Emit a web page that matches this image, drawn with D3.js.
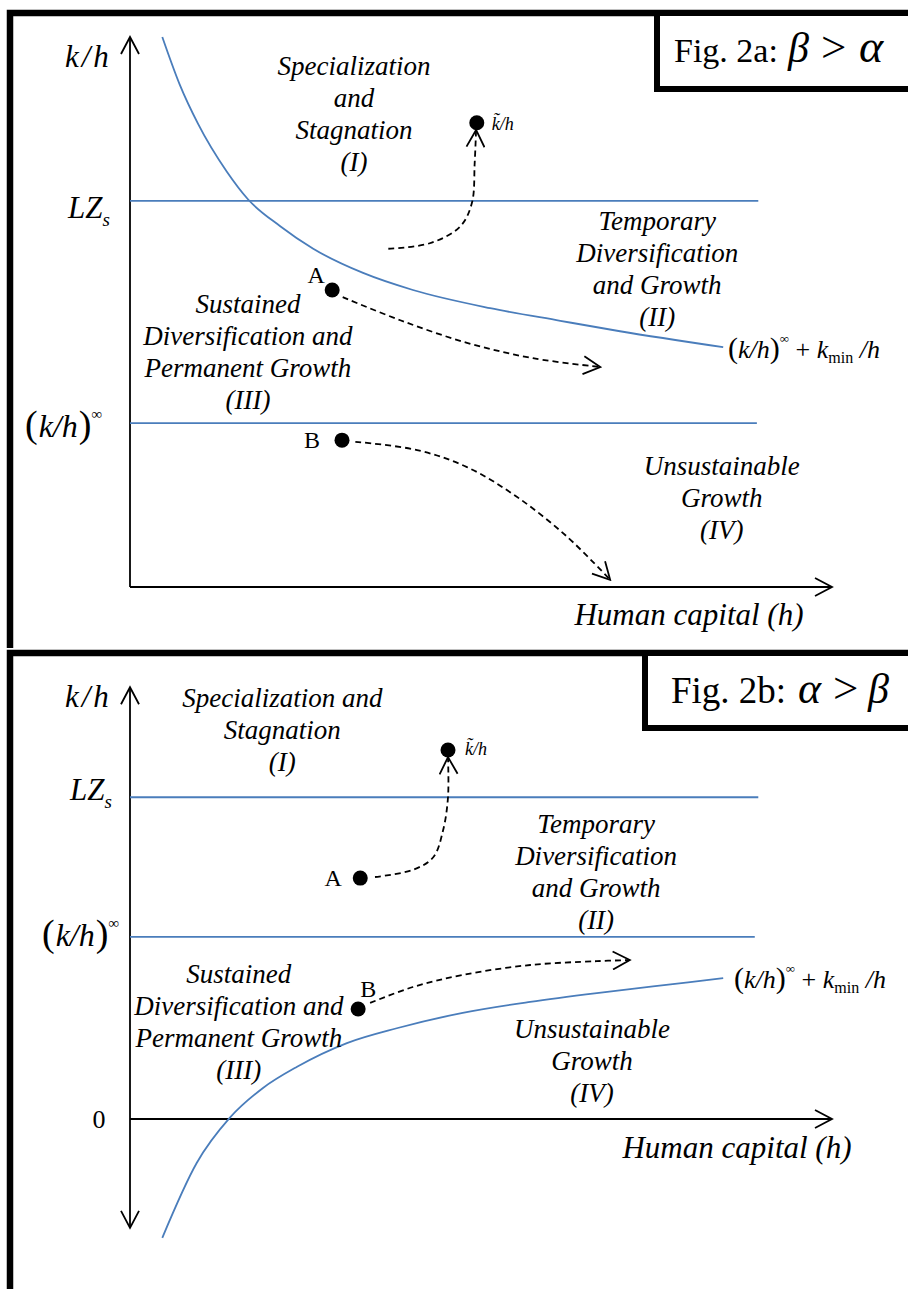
<!DOCTYPE html>
<meta charset="utf-8">
<script src="https://d3js.org/d3.v7.min.js"></script>
<style>
  body { margin: 0; background: #fff; }
  text { font-family: 'Liberation Serif', 'Times New Roman', serif; fill: #000; }
  .region { font-style: italic; font-size: 27px; }
</style>
<body>
<div id="my_dataviz"></div>
<script>

// ---- data (h on x, k/h on y, arbitrary units) ----
// Fig. 2a: beta > alpha
var levelsA = [{name: "LZs", v: 7.02, end: 8.95}, {name: "kInf", v: 2.98, end: 8.93}];
var curveA = [[0.46,10.0],[0.71,9.13],[0.97,8.42],[1.38,7.55],[1.68,7.05],[2.14,6.56],[2.61,6.15],
              [3.32,5.71],[4.03,5.40],[5.13,5.07],[6.13,4.84],[6.98,4.65],[8.45,4.36]];
var dotsA = [{name: "A", h: 2.88, kh: 5.40}, {name: "B", h: 3.02, kh: 2.67}, {name: "kt", h: 4.94, kh: 8.44}];
var pathsA = [
  [[3.68,6.15],[4.27,6.25],[4.70,6.55],[4.87,6.98],[4.91,7.71],[4.93,8.31]],
  [[3.03,5.27],[3.85,4.85],[4.80,4.44],[5.74,4.16],[6.70,4.00]],
  [[3.21,2.64],[4.09,2.49],[4.80,2.18],[5.51,1.64],[6.23,0.91],[6.84,0.13]]
];
var regionsA = [
  {lines: ["Specialization", "and", "Stagnation", "(I)"], h: 3.19, kh: 9.31},
  {lines: ["Temporary", "Diversification", "and Growth", "(II)"], h: 7.51, kh: 6.49},
  {lines: ["Sustained", "Diversification and", "Permanent Growth", "(III)"], h: 1.68, kh: 4.98},
  {lines: ["Unsustainable", "Growth", "(IV)"], h: 8.43, kh: 2.04}
];

// Fig. 2b: alpha > beta
var levelsB = [{name: "LZs", v: 5.85, end: 8.95}, {name: "kInf", v: 3.31, end: 8.90}];
var curveB = [[0.46,-2.16],[0.95,-0.80],[1.42,0.02],[1.89,0.56],[2.38,0.95],[3.09,1.38],
              [3.80,1.65],[4.74,1.93],[5.70,2.13],[6.65,2.29],[7.45,2.41],[8.45,2.56]];
var dotsB = [{name: "A", h: 3.28, kh: 4.38}, {name: "B", h: 3.25, kh: 2.00}, {name: "kt", h: 4.53, kh: 6.71}];
var pathsB = [
  [[3.49,4.40],[4.03,4.53],[4.32,4.76],[4.46,5.25],[4.53,5.85],[4.53,6.58]],
  [[3.42,2.11],[4.03,2.40],[4.74,2.62],[5.70,2.80],[6.65,2.87],[7.12,2.89]]
];
var regionsB = [
  {lines: ["Specialization and", "Stagnation", "(I)"], h: 2.17, kh: 7.49},
  {lines: ["Temporary", "Diversification", "and Growth", "(II)"], h: 6.64, kh: 5.20},
  {lines: ["Sustained", "Diversification and", "Permanent Growth", "(III)"], h: 1.55, kh: 2.47},
  {lines: ["Unsustainable", "Growth", "(IV)"], h: 6.58, kh: 1.47}
];

var blue = "#4a7dbb";

var svg = d3.select("#my_dataviz")
  .append("svg")
    .attr("width", 908)
    .attr("height", 1289);

// open arrow head
svg.append("defs").append("marker")
    .attr("id", "arrow")
    .attr("viewBox", "0 0 20 20")
    .attr("refX", 18).attr("refY", 10)
    .attr("markerWidth", 20).attr("markerHeight", 20)
    .attr("markerUnits", "userSpaceOnUse")
    .attr("orient", "auto-start-reverse")
  .append("path")
    .attr("d", "M1,1 L18,10 L1,19")
    .attr("fill", "none")
    .attr("stroke", "#000")
    .attr("stroke-width", 1.8);

// write a text made of parts (for the little formulas)
function mathText(g, x, y, parts, anchor) {
  var t = g.append("text").attr("x", x).attr("y", y).attr("text-anchor", anchor || "start");
  parts.forEach(function(p) {
    var s = t.append("tspan")
      .attr("font-size", p.size)
      .attr("font-style", p.it ? "italic" : "normal")
      .attr("dy", p.dy || 0)
      .attr("dx", p.dx || 0)
      .text(p.t);
    if (p.x != null) s.attr("x", p.x);
  });
  return t;
}

function drawPanel(cfg) {
  var g = svg.append("g");
  var x = d3.scaleLinear().domain([0, 10]).range([130, 832]);
  var y = d3.scaleLinear().domain([0, 10]).range(cfg.yRange);

  // frame and title box
  g.append("path")
    .attr("d", "M10," + cfg.frame[1] + " V" + cfg.frame[0] + " H915")
    .attr("fill", "none").attr("stroke", "#000").attr("stroke-width", 6.5);
  g.append("rect")
    .attr("x", cfg.box[0]).attr("y", cfg.frame[0])
    .attr("width", 915 - cfg.box[0]).attr("height", cfg.box[1] - cfg.frame[0])
    .attr("fill", "#fff").attr("stroke", "#000").attr("stroke-width", 6);
  mathText(g, cfg.title[0], cfg.title[1], [
    {t: cfg.titleText, size: cfg.titleSize},
    {t: cfg.sym[0], size: cfg.symSize[0], it: true, x: cfg.symX[0]},
    {t: ">", size: "45px", x: cfg.symX[1]},
    {t: cfg.sym[1], size: cfg.symSize[1], it: true, x: cfg.symX[2]}
  ]);

  // axes
  g.append("line")
    .attr("x1", x(0)).attr("x2", x(0))
    .attr("y1", y(cfg.yBottom)).attr("y2", y(cfg.yTop))
    .attr("stroke", "#000").attr("stroke-width", 1.8)
    .attr("marker-end", "url(#arrow)")
    .attr("marker-start", cfg.yBottom < 0 ? "url(#arrow)" : null);
  g.append("line")
    .attr("x1", x(0)).attr("x2", x(10))
    .attr("y1", y(0)).attr("y2", y(0))
    .attr("stroke", "#000").attr("stroke-width", 2.2)
    .attr("marker-end", "url(#arrow)");

  // horizontal thresholds
  g.selectAll(".level").data(cfg.levels).enter().append("line")
    .attr("x1", x(0)).attr("x2", function(d) { return x(d.end); })
    .attr("y1", function(d) { return y(d.v); }).attr("y2", function(d) { return y(d.v); })
    .attr("stroke", blue).attr("stroke-width", 1.8);

  // (k/h)^inf + kmin/h curve
  var smooth = d3.line()
    .x(function(d) { return x(d[0]); })
    .y(function(d) { return y(d[1]); })
    .curve(d3.curveMonotoneX);
  g.append("path").datum(cfg.curve)
    .attr("d", smooth)
    .attr("fill", "none").attr("stroke", blue).attr("stroke-width", 1.8);

  // dashed trajectories
  var line = d3.line()
    .x(function(d) { return x(d[0]); })
    .y(function(d) { return y(d[1]); })
    .curve(d3.curveCatmullRom.alpha(0.5));
  g.selectAll(".traj").data(cfg.paths).enter().append("path")
    .attr("d", line)
    .attr("fill", "none").attr("stroke", "#000").attr("stroke-width", 1.8)
    .attr("stroke-dasharray", "6,4")
    .attr("marker-end", "url(#arrow)");

  // dots
  g.selectAll(".dot").data(cfg.dots).enter().append("circle")
    .attr("cx", function(d) { return x(d.h); })
    .attr("cy", function(d) { return y(d.kh); })
    .attr("r", 7.5).attr("fill", "#000");
  cfg.dots.forEach(function(d) {
    var off = cfg.dotLab[d.name];
    if (d.name == "kt") {
      mathText(g, x(d.h) + off[0], y(d.kh) + off[1], [{t: "k\u0303/h", size: "18px", it: true}]);
    } else {
      g.append("text").attr("x", x(d.h) + off[0]).attr("y", y(d.kh) + off[1])
        .attr("text-anchor", "middle").style("font-size", "24px").text(d.name);
    }
  });

  // region names
  cfg.regions.forEach(function(r) {
    var t = g.append("text").attr("class", "region").attr("text-anchor", "middle");
    r.lines.forEach(function(s, i) {
      t.append("tspan").attr("x", x(r.h)).attr("y", y(r.kh) + i * 32).text(s);
    });
  });

  // axis labels
  mathText(g, cfg.kh[0], cfg.kh[1], [{t: "k/h", size: "31px", it: true}]).attr("letter-spacing", "3px");
  mathText(g, cfg.lz[0], cfg.lz[1], [
    {t: "LZ", size: "31px", it: true},
    {t: "s", size: "19px", it: true, dy: 8}
  ]);
  mathText(g, cfg.kinf[0], cfg.kinf[1], [
    {t: "(", size: "38px"},
    {t: "k/h", size: "32px", it: true, dx: 1},
    {t: ")", size: "38px", dx: 1},
    {t: "\u221e", size: "15px", dy: -18}
  ]);
  mathText(g, cfg.clab[0], cfg.clab[1], [
    {t: "(", size: "30px"},
    {t: "k/h", size: "26px", it: true},
    {t: ")", size: "30px"},
    {t: "\u221e", size: "13px", dy: -15},
    {t: " + ", size: "26px", dy: 15},
    {t: "k", size: "26px", it: true},
    {t: "min", size: "16px", dy: 5},
    {t: " /h", size: "26px", it: true, dy: -5}
  ]);
  g.append("text").attr("x", cfg.xlab[0]).attr("y", cfg.xlab[1])
    .attr("text-anchor", "middle")
    .style("font-size", "31px").style("font-style", "italic")
    .text("Human capital (h)");
  if (cfg.zero) {
    g.append("text").attr("x", 99).attr("y", y(0) + 9)
      .attr("text-anchor", "middle").style("font-size", "26px").text("0");
  }
}

drawPanel({
  yRange: [587, 37], yTop: 10, yBottom: 0,
  frame: [13, 648], box: [657, 89],
  title: [674, 62], titleText: "Fig. 2a:", titleSize: "34px", sym: ["\u03b2", "\u03b1"],
  symX: [788, 821, 859], symSize: ["42px", "46px"],
  levels: levelsA, curve: curveA, paths: pathsA, dots: dotsA, regions: regionsA,
  dotLab: {A: [-16, -7], B: [-30, 8], kt: [15, 7]},
  kh: [65, 67], lz: [68, 218], kinf: [25, 437], clab: [728, 358], xlab: [689, 625], zero: false
});

drawPanel({
  yRange: [1119, 569], yTop: 7.85, yBottom: -1.98,
  frame: [653, 1295], box: [645, 728],
  title: [671, 703], titleText: "Fig. 2b:", titleSize: "37px", sym: ["\u03b1", "\u03b2"],
  symX: [798, 833, 868], symSize: ["44px", "42px"],
  levels: levelsB, curve: curveB, paths: pathsB, dots: dotsB, regions: regionsB,
  dotLab: {A: [-27, 8], B: [10, -12], kt: [17, 5]},
  kh: [65, 707], lz: [70, 800], kinf: [42, 946], clab: [734, 988], xlab: [737, 1158], zero: true
});

</script>
</body>
